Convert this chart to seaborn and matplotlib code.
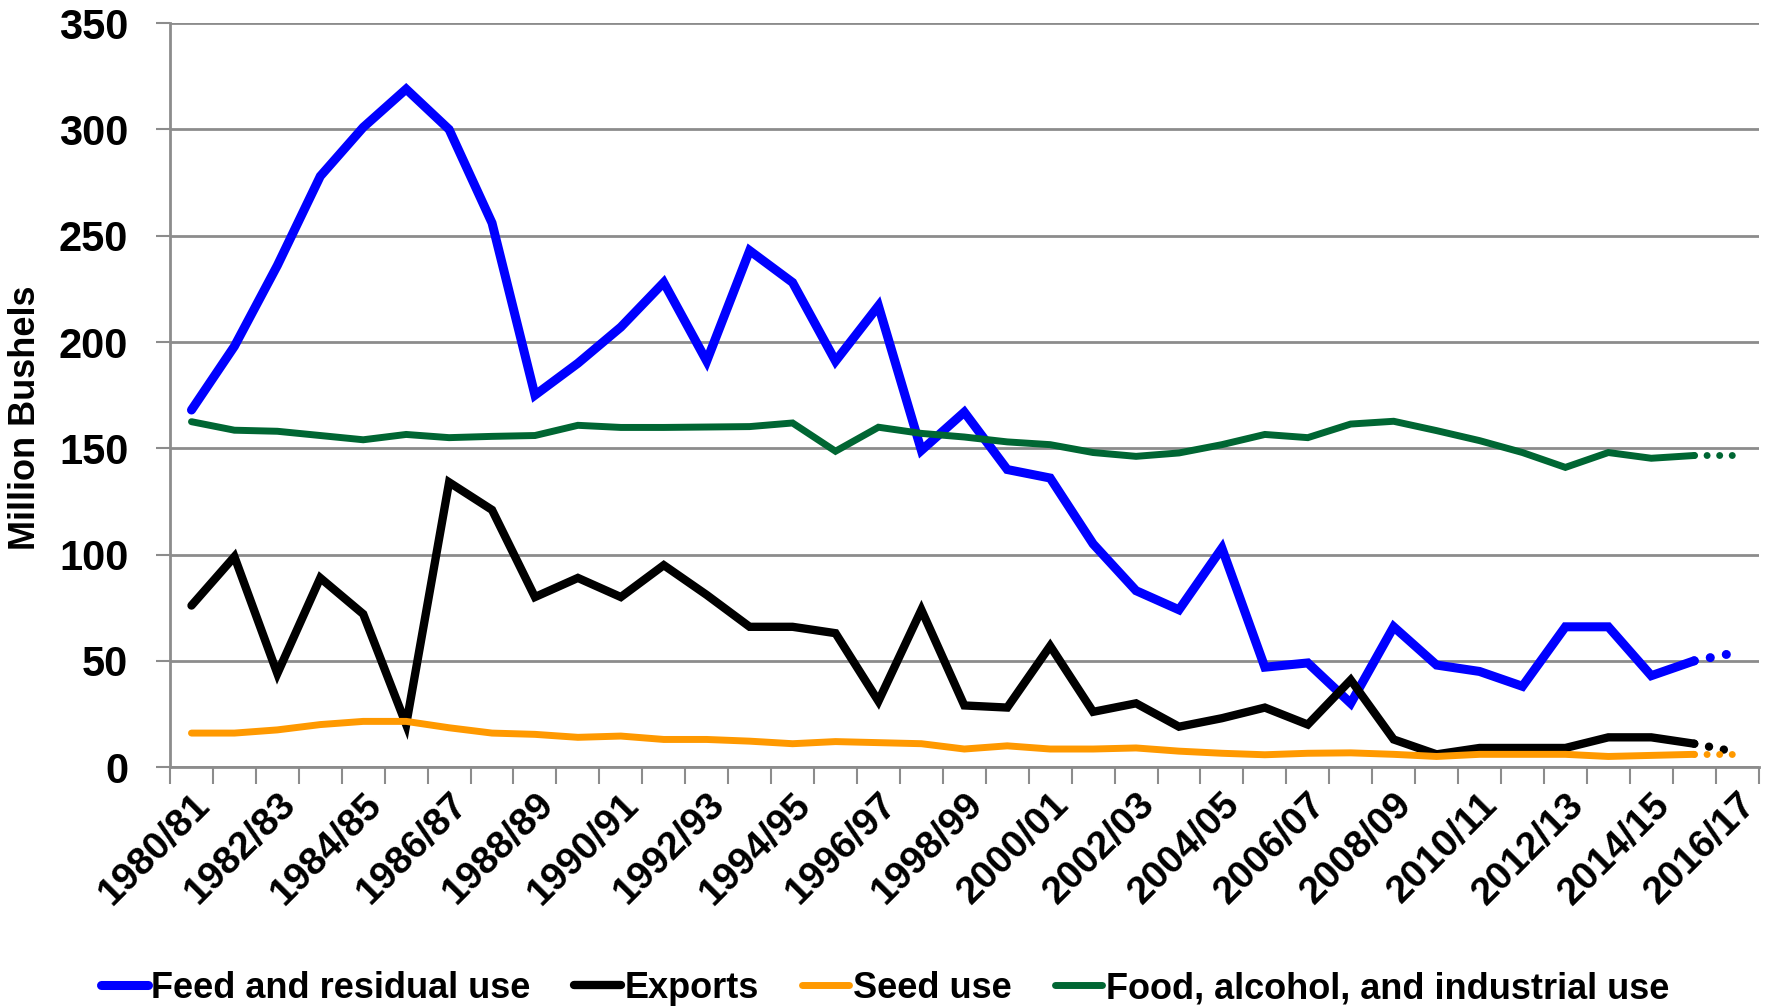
import numpy as np
import pandas as pd
import matplotlib
matplotlib.use("Agg")
import matplotlib.pyplot as plt
import seaborn as sns

# Marketing years
years = ["1980/81", "1981/82", "1982/83", "1983/84", "1984/85", "1985/86", "1986/87",
         "1987/88", "1988/89", "1989/90", "1990/91", "1991/92", "1992/93", "1993/94",
         "1994/95", "1995/96", "1996/97", "1997/98", "1998/99", "1999/00", "2000/01",
         "2001/02", "2002/03", "2003/04", "2004/05", "2005/06", "2006/07", "2007/08",
         "2008/09", "2009/10", "2010/11", "2011/12", "2012/13", "2013/14", "2014/15",
         "2015/16", "2016/17"]

# Million bushels (last value is a projection)
feed = [168, 198, 236, 278, 301, 319, 300, 256, 175, 190, 207, 228, 191, 243, 228,
        191, 217, 149, 167, 140, 136, 105, 83, 74, 103, 47, 49, 30, 66, 48,
        45, 38, 66, 66, 43, 50, 54]
exports = [76, 99, 44, 89, 72, 20, 134, 121, 80, 89, 80, 95, 81, 66, 66,
           63, 31, 74, 29, 28, 57, 26, 30, 19, 23, 28, 20, 41, 13, 6,
           9, 9, 9, 14, 14, 11, 7]
seed = [16, 16, 17.5, 20, 21.5, 21.5, 18.5, 16, 15.4, 14, 14.6, 13, 13, 12.2, 11,
        12, 11.5, 11, 8.5, 10, 8.5, 8.5, 9, 7.5, 6.5, 5.8, 6.5, 6.7, 6, 5,
        6, 6, 6, 5, 5.5, 6, 6]
food = [162.5, 158.5, 158, 156, 154, 156.5, 155, 155.6, 156, 160.8, 159.8, 159.8, 160, 160.2, 161.9,
        148.6, 159.9, 157, 155.3, 153, 151.7, 148, 146.2, 147.8, 151.7, 156.5, 155, 161.4, 162.7, 158.3,
        153.6, 148, 141, 148, 145.3, 146.6, 146.6]

series = ["Feed and residual use", "Exports", "Seed use", "Food, alcohol, and industrial use"]
colors = ["#0000FF", "#000000", "#FF9900", "#006633"]
widths = [6.5, 6, 5, 5]

x = np.arange(len(years))
df = pd.DataFrame({"x": x, series[0]: feed, series[1]: exports,
                   series[2]: seed, series[3]: food})

plt.rcParams["font.family"] = ["Liberation Sans Narrow", "Liberation Sans", "DejaVu Sans"]
fig, ax = plt.subplots(figsize=(17.71, 10.08), dpi=100)
fig.subplots_adjust(left=0.096, right=0.993, top=0.977, bottom=0.239)

# solid lines up to 2015/16, dotted projection to 2016/17
last = len(years) - 2
for name, c, w in zip(series, colors, widths):
    solid = df[df["x"] <= last]
    proj = df[df["x"] >= last]
    sns.lineplot(data=solid, x="x", y=name, color=c, linewidth=w, ax=ax,
                 label=name, solid_capstyle="round", solid_joinstyle="miter")
    sns.lineplot(data=proj, x="x", y=name, color=c, linewidth=w, ax=ax,
                 linestyle=(0, (0.01, 1.8)), dash_capstyle="round", legend=False)

ax.set_xlim(-0.5, len(years) - 0.5)
ax.set_ylim(0, 350)
ax.set_yticks(range(0, 351, 50))
ax.tick_params(axis="y", labelsize=30, length=10, width=1.5, color="#8c8c8c", pad=20)
for t in ax.get_yticklabels():
    t.set_fontweight("bold")

ax.set_xticks(x[::2])
ax.set_xticklabels(years[::2], rotation=45, ha="right", rotation_mode="anchor",
                   fontsize=28, fontweight="bold")
ax.set_xticks(np.arange(-0.5, len(years), 1), minor=True)
ax.tick_params(axis="x", which="major", length=0, pad=14)
ax.tick_params(axis="x", which="minor", length=12, width=1.5, color="#8c8c8c")

ax.grid(axis="y", color="#8c8c8c", linewidth=2)
ax.set_axisbelow(True)
for s in ["top", "right"]:
    ax.spines[s].set_visible(False)
for s in ["left", "bottom"]:
    ax.spines[s].set_color("#8c8c8c")
    ax.spines[s].set_linewidth(2)

ax.set_xlabel("")
ax.set_ylabel("Million Bushels", fontsize=26, fontweight="bold")
ax.yaxis.set_label_coords(-0.080, 0.47)

ax.legend(loc="lower center", bbox_to_anchor=(0.45, -0.365), ncol=4, frameon=False,
          prop={"size": 26, "weight": "bold"}, handlelength=1.3, handletextpad=0.1,
          columnspacing=1.2)

fig.savefig("out.png", dpi=100)
